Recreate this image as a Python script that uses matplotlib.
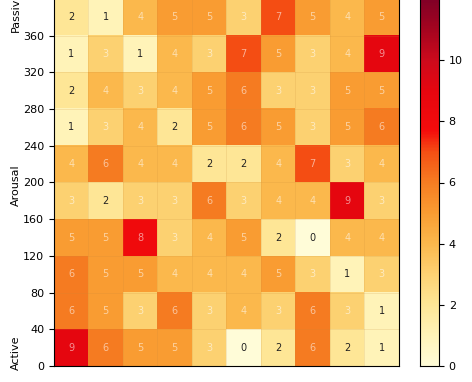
import numpy as np
import matplotlib
matplotlib.use("Agg")
import matplotlib.pyplot as plt
from matplotlib.colors import LinearSegmentedColormap

# rows listed top (360-400) to bottom (0-40)
row_360 = [2, 1, 4, 5, 5, 3, 7, 5, 4, 5]
row_320 = [1, 3, 1, 4, 3, 7, 5, 3, 4, 9]
row_280 = [2, 4, 3, 4, 5, 6, 3, 3, 5, 5]
row_240 = [1, 3, 4, 2, 5, 6, 5, 3, 5, 6]
row_200 = [4, 6, 4, 4, 2, 2, 4, 7, 3, 4]
row_160 = [3, 2, 3, 3, 6, 3, 4, 4, 9, 3]
row_120 = [5, 5, 8, 3, 4, 5, 2, 0, 4, 4]
row_080 = [6, 5, 5, 4, 4, 4, 5, 3, 1, 3]
row_040 = [6, 5, 3, 6, 3, 4, 3, 6, 3, 1]
row_000 = [9, 6, 5, 5, 3, 0, 2, 6, 2, 1]

y_ticks = [0, 40, 80, 120, 160, 200, 240, 280, 320, 360]
cbar_ticks = [0, 2, 4, 6, 8, 10]
zone_labels = ["Active", "Arousal", "Passive"]
zone_pos = [14, 197, 387]

data = np.array([row_000, row_040, row_080, row_120, row_160,
                 row_200, row_240, row_280, row_320, row_360])
ncols = data.shape[1]
nrows = data.shape[0]
cell_h = 40

# saturated YlOrRd-like map as it appears in the reference
cmap = LinearSegmentedColormap.from_list("ylorrd_sat", [
    (0.0, "#fffcd8"), (1 / 12, "#fff3b8"), (2 / 12, "#fee696"),
    (3 / 12, "#fdd272"), (4 / 12, "#fbb84c"), (5 / 12, "#f99c32"),
    (6 / 12, "#f67d22"), (7 / 12, "#f44f14"), (7.7 / 12, "#f40c0c"),
    (9 / 12, "#e6060f"), (10 / 12, "#cc0a1c"), (11 / 12, "#a5041f"),
    (1.0, "#800026")])

fig = plt.figure(figsize=(4.72, 3.82), dpi=100)
ax = fig.add_axes([0.1144, 16 / 382, 345 / 472, 367 / 382])
cax = fig.add_axes([420 / 472, 16 / 382, 19 / 472, 367 / 382])

im = ax.imshow(data, cmap=cmap, vmin=0, vmax=12, origin="lower",
               extent=[0, ncols, 0, nrows * cell_h], aspect="auto",
               interpolation="nearest")

for i in range(nrows):
    for j in range(ncols):
        v = data[i, j]
        if v <= 2:
            ax.text(j + 0.5, i * cell_h + cell_h / 2, str(v), ha="center",
                    va="center", fontsize=7, color="#222222")
        else:
            ax.text(j + 0.5, i * cell_h + cell_h / 2, str(v), ha="center",
                    va="center", fontsize=7, color="white", alpha=0.55)

# faint cell borders
for j in range(1, ncols):
    ax.axvline(j, color="#c88a3a", lw=0.4, alpha=0.3)
for i in range(1, nrows):
    ax.axhline(i * cell_h, color="#c88a3a", lw=0.4, alpha=0.3)

ax.set_xlim(0, ncols)
ax.set_ylim(0, nrows * cell_h)
ax.set_xticks([])
ax.set_yticks(y_ticks)
ax.tick_params(axis="y", labelsize=8)

for lab, yp in zip(zone_labels, zone_pos):
    ax.text(-38 / 345 * ncols, yp, lab, rotation=90, ha="center", va="center",
            fontsize=8, clip_on=False)

cb = fig.colorbar(im, cax=cax, ticks=cbar_ticks)
cb.ax.tick_params(labelsize=8)
cb.outline.set_linewidth(0.8)

fig.savefig("out.png", dpi=100)
